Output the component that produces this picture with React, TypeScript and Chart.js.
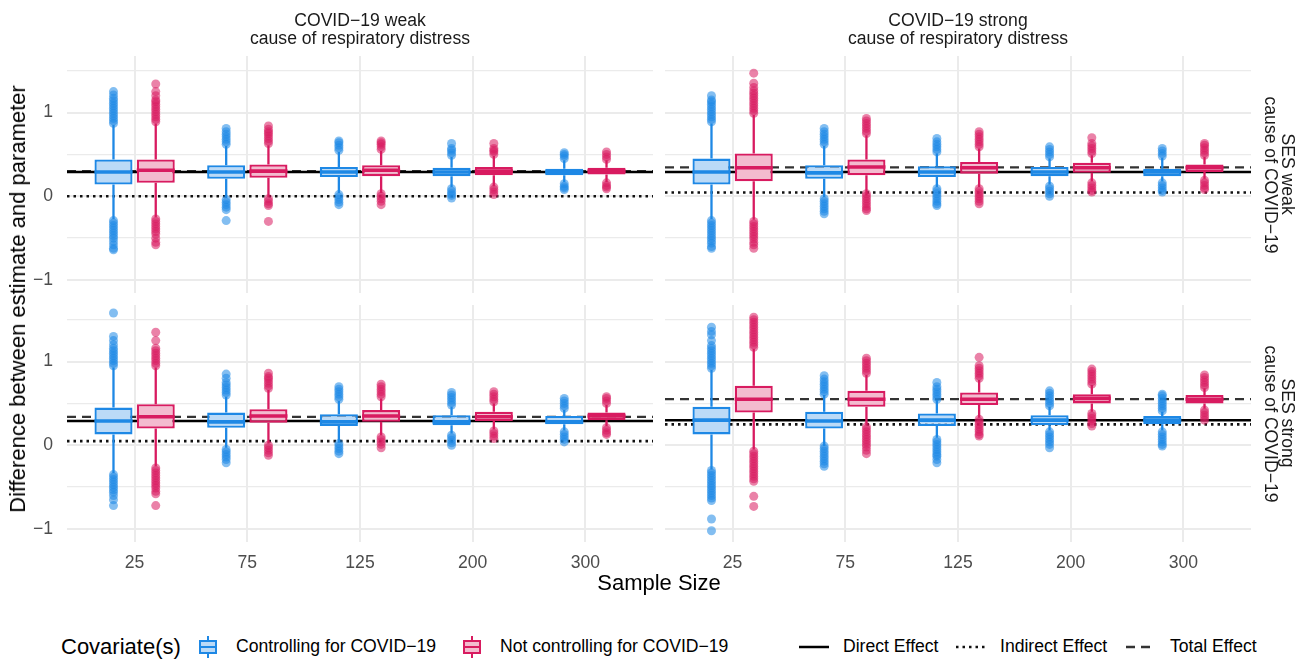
import React, { useEffect, useRef } from "react";
import { Chart, registerables } from "chart.js";
Chart.register(...registerables);

// ---------- categories & ticks ----------
const sampleSizes = ["25", "75", "125", "200", "300"];
const yTickValues = [-1, -0.5, 0, 0.5, 1, 1.5];
const yLabelled = [-1, 0, 1];
const yMin = -1.155;
const yMax = 1.675;

// reference lines per panel: [direct, indirect, total]
const refsWeakWeak = [0.29, 0.0, 0.3];
const refsWeakStrong = [0.29, 0.045, 0.345];
const refsStrongWeak = [0.29, 0.05, 0.34];
const refsStrongStrong = [0.3, 0.25, 0.55];

// box stats per sample size: [lower whisker, q1, median, q3, upper whisker]
// Panel: SES weak / COVID-19 weak
const wwCtrl = [[-0.27, 0.14, 0.29, 0.44, 0.85], [-0.02, 0.21, 0.29, 0.37, 0.6], [0.04, 0.23, 0.29, 0.35, 0.53], [0.11, 0.24, 0.29, 0.34, 0.47], [0.17, 0.25, 0.29, 0.33, 0.43]];
const wwCtrlOut = [
  [0.87, 0.9, 0.93, 0.96, 0.99, 1.02, 1.05, 1.08, 1.11, 1.14, 1.17, 1.21, 1.25, -0.29, -0.32, -0.35, -0.38, -0.41, -0.44, -0.47, -0.5, -0.54, -0.58, -0.62, -0.64],
  [0.62, 0.65, 0.68, 0.71, 0.74, 0.77, 0.81, -0.04, -0.07, -0.1, -0.13, -0.16, -0.29],
  [0.55, 0.58, 0.61, 0.64, 0.66, 0.02, -0.01, -0.04, -0.07, -0.1],
  [0.49, 0.52, 0.55, 0.57, 0.63, 0.09, 0.06, 0.03, 0.01, -0.02],
  [0.45, 0.48, 0.5, 0.52, 0.15, 0.12, 0.1, 0.08],
];
const wwNoCtrl = [[-0.25, 0.16, 0.31, 0.44, 0.87], [-0.01, 0.22, 0.3, 0.38, 0.61], [0.04, 0.24, 0.31, 0.37, 0.54], [0.12, 0.25, 0.3, 0.35, 0.48], [0.17, 0.26, 0.3, 0.34, 0.43]];
const wwNoCtrlOut = [
  [0.89, 0.92, 0.95, 0.98, 1.01, 1.04, 1.07, 1.1, 1.13, 1.15, 1.2, 1.25, 1.34, -0.27, -0.3, -0.33, -0.36, -0.39, -0.42, -0.45, -0.5, -0.55, -0.58],
  [0.63, 0.66, 0.69, 0.72, 0.75, 0.77, 0.8, 0.84, -0.03, -0.06, -0.09, -0.11, -0.3],
  [0.56, 0.59, 0.62, 0.64, 0.66, 0.03, 0.0, -0.03, -0.06, -0.1],
  [0.5, 0.53, 0.55, 0.57, 0.63, 0.11, 0.08, 0.05, 0.02],
  [0.44, 0.47, 0.5, 0.53, 0.16, 0.13, 0.11, 0.09],
];

// Panel: SES weak / COVID-19 strong
const wsCtrl = [[-0.27, 0.14, 0.29, 0.45, 0.87], [-0.01, 0.21, 0.28, 0.37, 0.6], [0.11, 0.23, 0.29, 0.36, 0.51], [0.14, 0.24, 0.29, 0.35, 0.45], [0.18, 0.24, 0.29, 0.33, 0.46]];
const wsCtrlOut = [
  [0.89, 0.92, 0.95, 0.98, 1.01, 1.04, 1.07, 1.1, 1.13, 1.15, 1.2, -0.29, -0.32, -0.35, -0.38, -0.41, -0.44, -0.47, -0.5, -0.53, -0.56, -0.6, -0.62],
  [0.62, 0.65, 0.68, 0.71, 0.74, 0.77, 0.81, -0.03, -0.06, -0.09, -0.12, -0.15, -0.18, -0.21],
  [0.53, 0.56, 0.59, 0.62, 0.65, 0.69, 0.09, 0.06, 0.03, 0.0, -0.03, -0.06, -0.09, -0.11],
  [0.47, 0.5, 0.53, 0.56, 0.59, 0.12, 0.09, 0.06, 0.03, 0.0],
  [0.48, 0.51, 0.54, 0.57, 0.16, 0.13, 0.1, 0.07, 0.05],
];
const wsNoCtrl = [[-0.28, 0.18, 0.34, 0.51, 0.97], [0.01, 0.25, 0.35, 0.44, 0.73], [0.11, 0.27, 0.34, 0.41, 0.57], [0.18, 0.28, 0.34, 0.4, 0.49], [0.21, 0.29, 0.34, 0.38, 0.47]];
const wsNoCtrlOut = [
  [0.99, 1.02, 1.05, 1.08, 1.11, 1.14, 1.17, 1.2, 1.23, 1.26, 1.3, 1.35, 1.47, -0.3, -0.33, -0.36, -0.39, -0.42, -0.45, -0.48, -0.51, -0.55, -0.58, -0.62],
  [0.75, 0.78, 0.81, 0.84, 0.87, 0.9, 0.93, 0.03, 0.0, -0.03, -0.06, -0.09, -0.12, -0.15, -0.17],
  [0.59, 0.62, 0.65, 0.68, 0.71, 0.74, 0.77, 0.09, 0.06, 0.03, 0.0, -0.03, -0.06, -0.09],
  [0.51, 0.54, 0.57, 0.6, 0.63, 0.7, 0.16, 0.13, 0.1, 0.07, 0.05],
  [0.49, 0.52, 0.55, 0.58, 0.61, 0.63, 0.19, 0.16, 0.13, 0.1, 0.08],
];

// Panel: SES strong / COVID-19 weak
const swCtrl = [[-0.33, 0.13, 0.29, 0.45, 0.93], [-0.03, 0.21, 0.28, 0.39, 0.58], [0.03, 0.23, 0.28, 0.37, 0.53], [0.14, 0.24, 0.28, 0.36, 0.46], [0.18, 0.25, 0.28, 0.35, 0.42]];
const swCtrlOut = [
  [0.95, 0.98, 1.01, 1.04, 1.07, 1.1, 1.13, 1.16, 1.2, 1.25, 1.3, 1.58, -0.35, -0.38, -0.41, -0.44, -0.47, -0.5, -0.53, -0.56, -0.6, -0.65, -0.72],
  [0.6, 0.63, 0.66, 0.69, 0.72, 0.75, 0.8, 0.85, -0.05, -0.08, -0.11, -0.14, -0.17, -0.21],
  [0.55, 0.58, 0.61, 0.64, 0.67, 0.7, 0.02, -0.01, -0.04, -0.07, -0.1],
  [0.48, 0.51, 0.54, 0.57, 0.6, 0.63, 0.12, 0.09, 0.06, 0.03, 0.0],
  [0.44, 0.47, 0.5, 0.53, 0.56, 0.16, 0.13, 0.1, 0.07, 0.04],
];
const swNoCtrl = [[-0.25, 0.2, 0.34, 0.49, 0.93], [0.02, 0.27, 0.35, 0.43, 0.66], [0.12, 0.28, 0.35, 0.42, 0.56], [0.19, 0.29, 0.34, 0.4, 0.5], [0.23, 0.3, 0.35, 0.39, 0.48]];
const swNoCtrlOut = [
  [0.95, 0.98, 1.01, 1.04, 1.07, 1.1, 1.13, 1.16, 1.25, 1.35, -0.27, -0.3, -0.33, -0.36, -0.39, -0.42, -0.45, -0.48, -0.51, -0.55, -0.58, -0.72],
  [0.68, 0.71, 0.74, 0.77, 0.8, 0.82, 0.86, 0.0, -0.03, -0.06, -0.09, -0.12],
  [0.58, 0.61, 0.64, 0.67, 0.7, 0.73, 0.1, 0.07, 0.04, 0.01, -0.03],
  [0.52, 0.55, 0.58, 0.61, 0.64, 0.17, 0.14, 0.11, 0.08],
  [0.5, 0.53, 0.56, 0.58, 0.21, 0.18, 0.15, 0.13],
];

// Panel: SES strong / COVID-19 strong
const ssCtrl = [[-0.29, 0.13, 0.3, 0.46, 0.9], [-0.01, 0.2, 0.29, 0.4, 0.6], [0.09, 0.23, 0.3, 0.38, 0.54], [0.18, 0.24, 0.3, 0.36, 0.46], [0.18, 0.25, 0.3, 0.35, 0.4]];
const ssCtrlOut = [
  [0.92, 0.95, 0.98, 1.01, 1.04, 1.07, 1.1, 1.13, 1.16, 1.19, 1.25, 1.32, 1.36, 1.41, -0.3, -0.33, -0.36, -0.39, -0.42, -0.45, -0.48, -0.51, -0.54, -0.57, -0.6, -0.63, -0.66, -0.88, -1.02],
  [0.61, 0.64, 0.67, 0.7, 0.73, 0.76, 0.79, 0.83, -0.01, -0.04, -0.07, -0.1, -0.13, -0.16, -0.19, -0.22, -0.25],
  [0.55, 0.58, 0.61, 0.64, 0.67, 0.7, 0.75, 0.07, 0.04, 0.01, -0.02, -0.05, -0.08, -0.11, -0.13, -0.17, -0.21],
  [0.47, 0.5, 0.53, 0.56, 0.59, 0.62, 0.65, 0.16, 0.13, 0.1, 0.07, 0.04, 0.01, -0.03],
  [0.41, 0.44, 0.47, 0.5, 0.53, 0.56, 0.59, 0.61, 0.16, 0.13, 0.1, 0.07, 0.04, 0.01, -0.01],
];
const ssNoCtrl = [[-0.05, 0.39, 0.55, 0.71, 1.15], [0.24, 0.46, 0.55, 0.65, 0.84], [0.33, 0.48, 0.55, 0.63, 0.78], [0.4, 0.5, 0.56, 0.61, 0.72], [0.44, 0.5, 0.55, 0.6, 0.68]];
const ssNoCtrlOut = [
  [1.17, 1.2, 1.23, 1.26, 1.29, 1.32, 1.35, 1.38, 1.41, 1.44, 1.47, 1.5, 1.53, -0.07, -0.1, -0.13, -0.16, -0.19, -0.22, -0.25, -0.28, -0.31, -0.34, -0.37, -0.4, -0.43, -0.61, -0.73],
  [0.86, 0.89, 0.92, 0.95, 0.98, 1.01, 1.04, 0.22, 0.19, 0.16, 0.13, 0.1, 0.07, 0.04, 0.01, -0.02, -0.06, -0.1],
  [0.8, 0.83, 0.86, 0.89, 0.92, 0.95, 1.05, 0.31, 0.28, 0.25, 0.22, 0.19, 0.16, 0.13, 0.11],
  [0.73, 0.76, 0.79, 0.82, 0.85, 0.88, 0.91, 0.38, 0.35, 0.32, 0.29, 0.26, 0.23],
  [0.69, 0.72, 0.75, 0.78, 0.81, 0.84, 0.42, 0.39, 0.36, 0.33, 0.3],
];

// ---------- styling ----------
const FONT = "'Liberation Sans', Arial, Helvetica, sans-serif";
const BLUE = "#1E88E5";
const BLUE_FILL = "#BBDAF7";
const BLUE_PT = "rgba(30,136,229,0.55)";
const RED = "#D81B60";
const RED_FILL = "#F3BBCF";
const RED_PT = "rgba(216,27,96,0.55)";
const GRID = "#EBEBEB";
const TICK = "#4D4D4D";

const X_MIN = -0.6;
const X_MAX = sampleSizes.length - 0.4;
const DODGE = 0.75 / 4;

const PANEL_W = 586;
const PANEL_H = 237;
const PAD = 30;
const YAX = 40;
const XAX = 32;

const fmt = (v: number) => (v < 0 ? "\u2212" + Math.abs(v) : String(v));

const boxPlugin = {
  id: "boxWhiskers",
  afterDatasetDraw(chart: any, args: any) {
    const ds = chart.data.datasets[args.index];
    if (!ds.stats) return;
    const y = chart.scales.y;
    const ctx = chart.ctx;
    ctx.save();
    ctx.strokeStyle = ds.borderColor;
    args.meta.data.forEach((bar: any, i: number) => {
      const s = ds.stats[i];
      const { x, width } = bar.getProps(["x", "width"], true);
      ctx.lineWidth = 2.3;
      ctx.beginPath();
      ctx.moveTo(x, y.getPixelForValue(s[0]));
      ctx.lineTo(x, y.getPixelForValue(s[1]));
      ctx.moveTo(x, y.getPixelForValue(s[3]));
      ctx.lineTo(x, y.getPixelForValue(s[4]));
      ctx.stroke();
      const ym = y.getPixelForValue(s[2]);
      ctx.lineWidth = 3.6;
      ctx.beginPath();
      ctx.moveTo(x - width / 2, ym);
      ctx.lineTo(x + width / 2, ym);
      ctx.stroke();
    });
    ctx.restore();
  },
};

function refLine(v: number, dash: number[], color: string, w: number) {
  return {
    type: "line",
    data: [{ x: X_MIN, y: v }, { x: X_MAX, y: v }],
    borderColor: color,
    borderWidth: w,
    borderDash: dash,
    pointRadius: 0,
    fill: false,
    order: 10,
  };
}

function boxDataset(label: string, stats: number[][], color: string, fill: string) {
  return {
    type: "bar",
    label,
    data: stats.map((s, i) => ({ x: i, y: [s[1], s[3]] })),
    stats,
    backgroundColor: fill,
    borderColor: color,
    borderWidth: 2.3,
    borderSkipped: false,
    categoryPercentage: 0.75,
    barPercentage: 0.9,
    order: 5,
  };
}

function outlierDataset(out: number[][], off: number, color: string) {
  return {
    type: "scatter",
    data: out.flatMap((arr, i) => arr.map((v) => ({ x: i + off, y: v }))),
    pointRadius: 4.5,
    pointBackgroundColor: color,
    pointBorderWidth: 0,
    order: 1,
  };
}

type PanelProps = {
  ctrl: number[][];
  ctrlOut: number[][];
  noCtrl: number[][];
  noCtrlOut: number[][];
  refs: number[];
  left: number;
  top: number;
  showX: boolean;
  showY: boolean;
};

function Panel(p: PanelProps) {
  const ref = useRef<HTMLCanvasElement | null>(null);
  const yw = p.showY ? YAX : 0;
  const xh = p.showX ? XAX : 0;
  const cw = PANEL_W + yw + 2 * PAD;
  const chh = PANEL_H + xh + 2 * PAD;
  useEffect(() => {
    if (!ref.current) return;
    const chart = new Chart(ref.current, {
      type: "bar",
      data: {
        datasets: [
          refLine(p.refs[0], [], "#000000", 2.5),
          refLine(p.refs[1], [2.5, 4], "#111111", 2.6),
          refLine(p.refs[2], [9, 6], "#333333", 2.2),
          boxDataset("Controlling for COVID\u221219", p.ctrl, BLUE, BLUE_FILL),
          boxDataset("Not controlling for COVID\u221219", p.noCtrl, RED, RED_FILL),
          outlierDataset(p.ctrlOut, -DODGE, BLUE_PT),
          outlierDataset(p.noCtrlOut, DODGE, RED_PT),
        ] as any,
      },
      options: {
        responsive: false,
        maintainAspectRatio: false,
        animation: false,
        layout: { padding: PAD },
        plugins: { legend: { display: false }, tooltip: { enabled: false } },
        scales: {
          x: {
            type: "linear",
            min: X_MIN,
            max: X_MAX,
            offset: false,
            afterBuildTicks: (s: any) => {
              s.ticks = sampleSizes.map((_, i) => ({ value: i }));
            },
            afterFit: (s: any) => {
              s.height = xh;
            },
            border: { display: false },
            grid: { color: GRID, lineWidth: 2, drawTicks: false, offset: false },
            ticks: {
              display: p.showX,
              autoSkip: false,
              maxRotation: 0,
              padding: 11,
              color: TICK,
              font: { family: FONT, size: 17.6 },
              callback: (v: any) => sampleSizes[v] ?? "",
            },
          },
          y: {
            type: "linear",
            min: yMin,
            max: yMax,
            afterBuildTicks: (s: any) => {
              s.ticks = yTickValues.map((v) => ({ value: v }));
            },
            afterFit: (s: any) => {
              s.width = yw;
            },
            border: { display: false },
            grid: {
              color: GRID,
              lineWidth: (c: any) => (c.tick && yLabelled.includes(c.tick.value) ? 2 : 1.3),
              drawTicks: false,
            },
            ticks: {
              display: p.showY,
              padding: 14,
              color: TICK,
              font: { family: FONT, size: 17.6 },
              callback: (v: any) => (yLabelled.includes(v) ? fmt(v) : ""),
            },
          },
        },
      } as any,
      plugins: [boxPlugin],
    });
    return () => chart.destroy();
  }, []);
  return (
    <canvas
      ref={ref}
      width={cw}
      height={chh}
      style={{ position: "absolute", left: p.left - yw - PAD, top: p.top - PAD, width: cw, height: chh }}
    />
  );
}

function BoxKey({ cx, color, fill }: { cx: number; color: string; fill: string }) {
  return (
    <div style={{ position: "absolute", left: cx - 14, top: 633, width: 28, height: 28 }}>
      <div style={{ position: "absolute", left: 13, top: 3, width: 2, height: 22, background: color }} />
      <div
        style={{
          position: "absolute",
          left: 5,
          top: 7,
          width: 18,
          height: 14,
          boxSizing: "border-box",
          border: `2px solid ${color}`,
          background: fill,
        }}
      />
      <div style={{ position: "absolute", left: 5, top: 13, width: 18, height: 2, background: color }} />
    </div>
  );
}

function LineKey({ x, dash, color }: { x: number; dash: string; color: string }) {
  return (
    <svg style={{ position: "absolute", left: x, top: 633 }} width={30} height={28}>
      <line x1={0} y1={14} x2={30} y2={14} stroke={color} strokeWidth={2.5} strokeDasharray={dash} />
    </svg>
  );
}

const txt = (left: number, size: number, s: string, color = "#000") => (
  <div
    style={{
      position: "absolute",
      left,
      top: 647,
      transform: "translateY(-50%)",
      fontSize: size,
      lineHeight: 1,
      color,
      whiteSpace: "nowrap",
    }}
  >
    {s}
  </div>
);

export default function App() {
  const LEFT_X = 67;
  const RIGHT_X = 665;
  const TOP_Y = 56;
  const BOT_Y = 305;
  const stripTop = (cx: number, l1: string, l2: string) => (
    <div
      style={{
        position: "absolute",
        left: cx - 200,
        top: 11,
        width: 400,
        textAlign: "center",
        fontSize: 17.6,
        lineHeight: "18px",
        color: "#1A1A1A",
      }}
    >
      {l1}
      <br />
      {l2}
    </div>
  );
  const stripRight = (cy: number, l1: string, l2: string) => (
    <div
      style={{
        position: "absolute",
        left: 1279,
        top: cy,
        transform: "translate(-50%, -50%)",
        writingMode: "vertical-rl",
        textAlign: "center",
        fontSize: 17.6,
        lineHeight: "17px",
        color: "#1A1A1A",
        whiteSpace: "nowrap",
      }}
    >
      {l1}
      <br />
      {l2}
    </div>
  );
  return (
    <div
      style={{
        position: "absolute",
        left: 0,
        top: 0,
        width: 1304,
        height: 660,
        background: "#fff",
        fontFamily: FONT,
        overflow: "hidden",
      }}
    >
      <Panel ctrl={wwCtrl} ctrlOut={wwCtrlOut} noCtrl={wwNoCtrl} noCtrlOut={wwNoCtrlOut} refs={refsWeakWeak} left={LEFT_X} top={TOP_Y} showX={false} showY={true} />
      <Panel ctrl={wsCtrl} ctrlOut={wsCtrlOut} noCtrl={wsNoCtrl} noCtrlOut={wsNoCtrlOut} refs={refsWeakStrong} left={RIGHT_X} top={TOP_Y} showX={false} showY={false} />
      <Panel ctrl={swCtrl} ctrlOut={swCtrlOut} noCtrl={swNoCtrl} noCtrlOut={swNoCtrlOut} refs={refsStrongWeak} left={LEFT_X} top={BOT_Y} showX={true} showY={true} />
      <Panel ctrl={ssCtrl} ctrlOut={ssCtrlOut} noCtrl={ssNoCtrl} noCtrlOut={ssNoCtrlOut} refs={refsStrongStrong} left={RIGHT_X} top={BOT_Y} showX={true} showY={false} />

      {stripTop(LEFT_X + PANEL_W / 2, "COVID\u221219 weak", "cause of respiratory distress")}
      {stripTop(RIGHT_X + PANEL_W / 2, "COVID\u221219 strong", "cause of respiratory distress")}
      {stripRight(TOP_Y + PANEL_H / 2, "SES weak", "cause of COVID\u221219")}
      {stripRight(BOT_Y + PANEL_H / 2, "SES strong", "cause of COVID\u221219")}

      <div
        style={{
          position: "absolute",
          left: 18,
          top: (TOP_Y + BOT_Y + PANEL_H) / 2,
          transform: "translate(-50%, -50%) rotate(-90deg)",
          fontSize: 22,
          whiteSpace: "nowrap",
          color: "#000",
        }}
      >
        Difference between estimate and parameter
      </div>
      <div
        style={{
          position: "absolute",
          left: (LEFT_X + RIGHT_X + PANEL_W) / 2,
          top: 583,
          transform: "translate(-50%, -50%)",
          fontSize: 22,
          whiteSpace: "nowrap",
          color: "#000",
        }}
      >
        Sample Size
      </div>

      {txt(61, 22, "Covariate(s)")}
      <BoxKey cx={208} color={BLUE} fill={BLUE_FILL} />
      {txt(236, 17.6, "Controlling for COVID\u221219")}
      <BoxKey cx={472} color={RED} fill={RED_FILL} />
      {txt(500, 17.6, "Not controlling for COVID\u221219")}
      <LineKey x={799} dash="" color="#000" />
      {txt(843, 17.6, "Direct Effect")}
      <LineKey x={956} dash="2.5 4" color="#111" />
      {txt(1000, 17.6, "Indirect Effect")}
      <LineKey x={1126} dash="9 6" color="#333" />
      {txt(1170, 17.6, "Total Effect")}
    </div>
  );
}
